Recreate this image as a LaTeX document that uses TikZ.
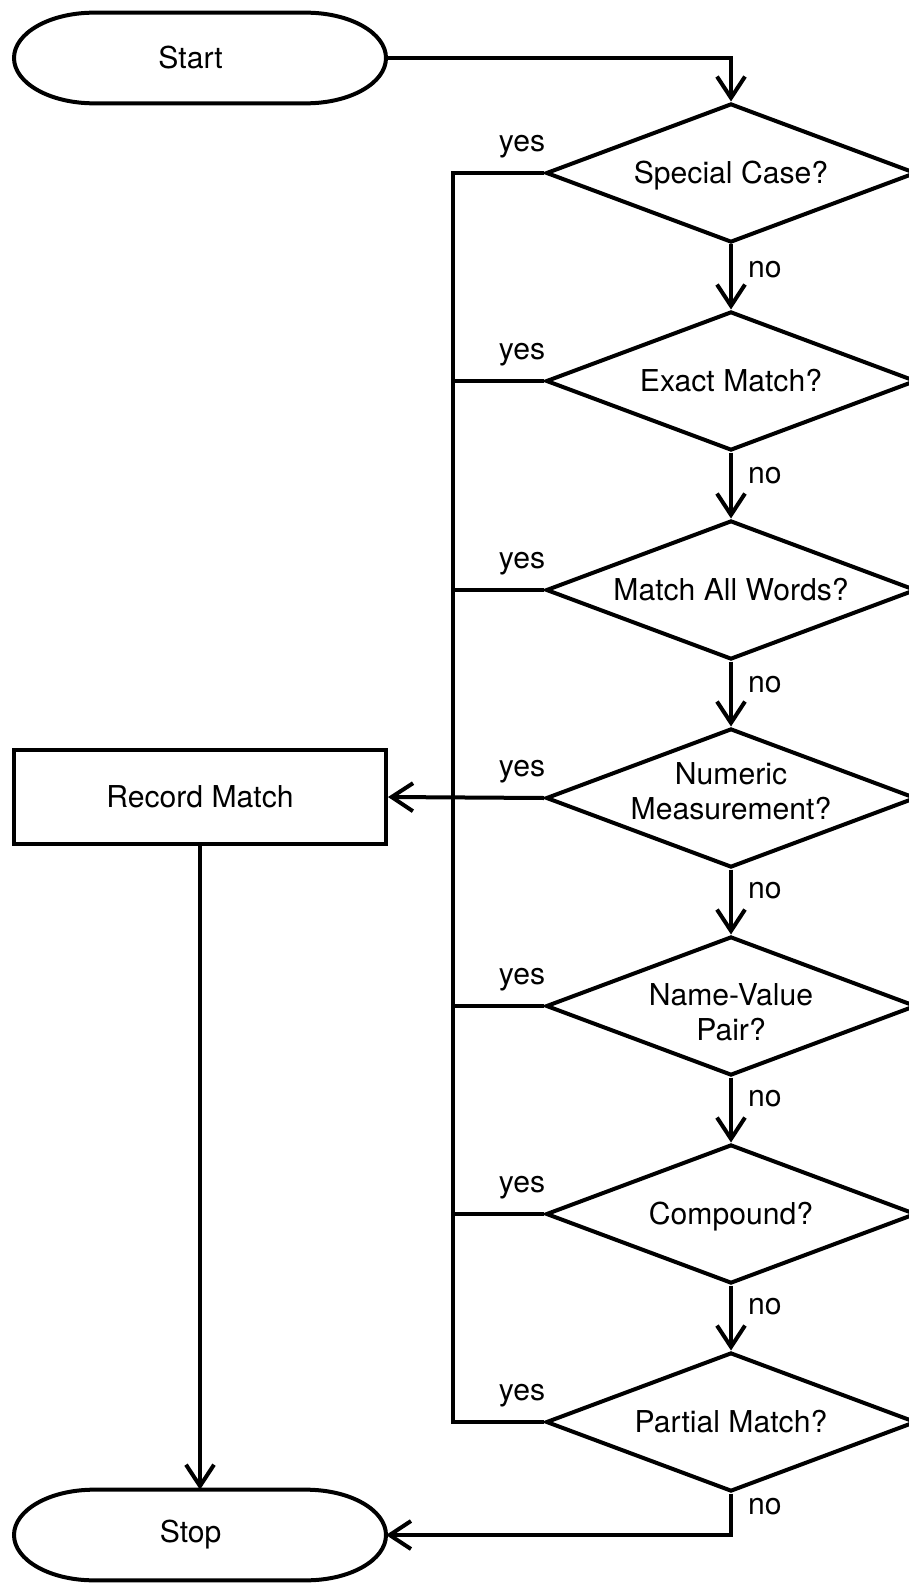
\documentclass[tikz,border=0pt]{standalone}
\usepackage{fontspec}
\setmainfont{TeX Gyre Heros}
\usetikzlibrary{shapes.geometric,shapes.misc,arrows.meta}
\begin{document}
\begin{tikzpicture}[x=0.75pt,y=-0.75pt,line width=3pt,
  every node/.style={font=\fontsize{22.6pt}{26.3pt}\selectfont},
  term/.style={rectangle,minimum width=279pt,minimum height=68pt,inner sep=0pt,outer sep=0pt},
  termline/.style={draw,line width=3pt},
  proc/.style={draw,rectangle,minimum width=279pt,minimum height=70.5pt,inner sep=0pt},
  decision/.style={draw,diamond,minimum width=277.5pt,minimum height=104.25pt,inner sep=0pt},
  lbl/.style={inner sep=0pt,draw=none},
  arr/.style={-{Straight Barb[length=16pt,width=21pt]}}]
\useasboundingbox (0,0) rectangle (909,1583);

\node[term,label={[xshift=-7pt]center:Start}] (start) at (200,58) {};
\node[proc] (rec) at (200,797) {Record Match};
\node[term,label={[xshift=-7pt]center:Stop}] (stop) at (200,1535) {};

\draw[termline] ([xshift=60pt]start.north west) -- ([xshift=-60pt]start.north east)
  arc[start angle=90,end angle=-90,x radius=60pt,y radius=34pt]
  -- ([xshift=60pt]start.south west)
  arc[start angle=270,end angle=90,x radius=60pt,y radius=34pt] -- cycle;
\draw[termline] ([xshift=60pt]stop.north west) -- ([xshift=-60pt]stop.north east)
  arc[start angle=90,end angle=-90,x radius=60pt,y radius=34pt]
  -- ([xshift=60pt]stop.south west)
  arc[start angle=270,end angle=90,x radius=60pt,y radius=34pt] -- cycle;

\node[decision,label={[yshift=-2pt]center:Special Case?}] (d1) at (731,173) {};
\node[decision,label={center:Exact Match?}] (d2) at (731,381) {};
\node[decision,label={center:Match All Words?}] (d3) at (731,590) {};
\node[decision,label={[align=center,yshift=5pt]center:Numeric\\Measurement?}] (d4) at (731,798) {};
\node[decision,label={[align=center,yshift=-5pt]center:Name-Value\\Pair?}] (d5) at (731,1006) {};
\node[decision,label={[yshift=-2pt]center:Compound?}] (d6) at (731,1214) {};
\node[decision,label={center:Partial Match?}] (d7) at (731,1422) {};

\node[lbl] (y1) at (522,147) {yes};
\node[lbl] (y2) at (522,355) {yes};
\node[lbl] (y3) at (522,564) {yes};
\node[lbl] (y4) at (522,772) {yes};
\node[lbl] (y5) at (522,980) {yes};
\node[lbl] (y6) at (522,1188) {yes};
\node[lbl] (y7) at (522,1396) {yes};

\node[lbl,anchor=west] (n1) at (746,270) {no};
\node[lbl,anchor=west] (n2) at (746,476) {no};
\node[lbl,anchor=west] (n3) at (746,685) {no};
\node[lbl,anchor=west] (n4) at (746,891) {no};
\node[lbl,anchor=west] (n5) at (746,1099) {no};
\node[lbl,anchor=west] (n6) at (746,1307) {no};
\node[lbl,anchor=west] (n7) at (746,1507) {no};

\coordinate (bt) at (453,173);
\coordinate (bb) at (453,1422);

\draw[arr] (start.east) -| (d1.north);
\draw[arr] (d1.south) -- (d2.north);
\draw[arr] (d2.south) -- (d3.north);
\draw[arr] (d3.south) -- (d4.north);
\draw[arr] (d4.south) -- (d5.north);
\draw[arr] (d5.south) -- (d6.north);
\draw[arr] (d6.south) -- (d7.north);

\draw (d1.west) -- (bt) -- (bb) -- (d7.west);
\draw (d2.west) -- (d2.west -| bt);
\draw (d3.west) -- (d3.west -| bt);
\draw (d5.west) -- (d5.west -| bt);
\draw (d6.west) -- (d6.west -| bt);
\draw[arr] (d4.west) -- (rec.east);

\draw[arr] (rec.south) -- (stop.north);
\draw[arr] (d7.south) |- (stop.east);
\end{tikzpicture}
\end{document}
